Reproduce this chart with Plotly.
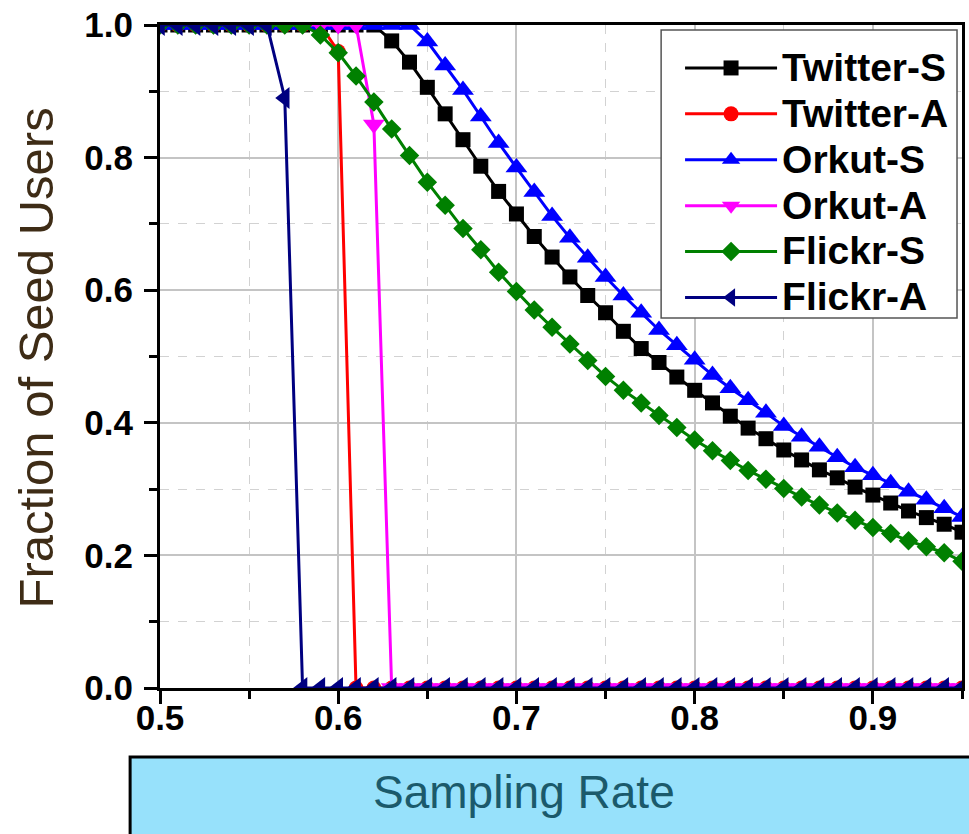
import plotly.graph_objects as go

sampling_rate = [0.50, 0.51, 0.52, 0.53, 0.54, 0.55, 0.56, 0.57, 0.58, 0.59,
                 0.60, 0.61, 0.62, 0.63, 0.64, 0.65, 0.66, 0.67, 0.68, 0.69,
                 0.70, 0.71, 0.72, 0.73, 0.74, 0.75, 0.76, 0.77, 0.78, 0.79,
                 0.80, 0.81, 0.82, 0.83, 0.84, 0.85, 0.86, 0.87, 0.88, 0.89,
                 0.90, 0.91, 0.92, 0.93, 0.94, 0.95]

twitter_s = [1.0, 1.0, 1.0, 1.0, 1.0, 1.0, 1.0, 1.0, 1.0, 1.0,
             1.0, 1.0, 1.0, 0.976, 0.944, 0.906, 0.866, 0.827, 0.787, 0.749,
             0.715, 0.681, 0.650, 0.620, 0.592, 0.566, 0.538, 0.512, 0.491, 0.469,
             0.449, 0.430, 0.410, 0.392, 0.376, 0.359, 0.344, 0.329, 0.317, 0.303,
             0.291, 0.279, 0.267, 0.257, 0.247, 0.235]

twitter_a = [1.0, 1.0, 1.0, 1.0, 1.0, 1.0, 1.0, 1.0, 1.0, 1.0,
             0.96, 0.0, 0.0, 0.0, 0.0, 0.0, 0.0, 0.0, 0.0, 0.0,
             0.0, 0.0, 0.0, 0.0, 0.0, 0.0, 0.0, 0.0, 0.0, 0.0,
             0.0, 0.0, 0.0, 0.0, 0.0, 0.0, 0.0, 0.0, 0.0, 0.0,
             0.0, 0.0, 0.0, 0.0, 0.0, 0.0]

orkut_s = [1.0, 1.0, 1.0, 1.0, 1.0, 1.0, 1.0, 1.0, 1.0, 1.0,
           1.0, 1.0, 1.0, 1.0, 1.0, 0.975, 0.939, 0.902, 0.862, 0.822,
           0.785, 0.748, 0.712, 0.679, 0.649, 0.620, 0.592, 0.566, 0.540, 0.517,
           0.495, 0.472, 0.452, 0.434, 0.415, 0.395, 0.379, 0.364, 0.348, 0.333,
           0.321, 0.309, 0.296, 0.284, 0.271, 0.258]

orkut_a = [1.0, 1.0, 1.0, 1.0, 1.0, 1.0, 1.0, 1.0, 1.0, 1.0,
           1.0, 1.0, 0.85, 0.0, 0.0, 0.0, 0.0, 0.0, 0.0, 0.0,
           0.0, 0.0, 0.0, 0.0, 0.0, 0.0, 0.0, 0.0, 0.0, 0.0,
           0.0, 0.0, 0.0, 0.0, 0.0, 0.0, 0.0, 0.0, 0.0, 0.0,
           0.0, 0.0, 0.0, 0.0, 0.0, 0.0]

flickr_s = [1.0, 1.0, 1.0, 1.0, 1.0, 1.0, 1.0, 1.0, 1.0, 0.985,
            0.958, 0.923, 0.884, 0.843, 0.803, 0.763, 0.728, 0.693, 0.661, 0.627,
            0.598, 0.570, 0.544, 0.519, 0.494, 0.470, 0.449, 0.430, 0.411, 0.393,
            0.374, 0.358, 0.343, 0.328, 0.315, 0.301, 0.288, 0.276, 0.264, 0.253,
            0.242, 0.233, 0.222, 0.213, 0.204, 0.191]

flickr_a = [1.0, 1.0, 1.0, 1.0, 1.0, 1.0, 1.0, 0.89, 0.0, 0.0,
            0.0, 0.0, 0.0, 0.0, 0.0, 0.0, 0.0, 0.0, 0.0, 0.0,
            0.0, 0.0, 0.0, 0.0, 0.0, 0.0, 0.0, 0.0, 0.0, 0.0,
            0.0, 0.0, 0.0, 0.0, 0.0, 0.0, 0.0, 0.0, 0.0, 0.0,
            0.0, 0.0, 0.0, 0.0, 0.0, 0.0]

series_names = ["Twitter-S", "Twitter-A", "Orkut-S", "Orkut-A", "Flickr-S", "Flickr-A"]
series_values = [twitter_s, twitter_a, orkut_s, orkut_a, flickr_s, flickr_a]
series_colors = ["#000000", "#FF0000", "#0000FF", "#FF00FF", "#008000", "#000080"]
series_symbols = ["square", "circle", "triangle-up", "triangle-down", "diamond", "triangle-left"]
series_sizes = [15, 15, 19, 19, 15, 19]

x_ticks = [0.5, 0.6, 0.7, 0.8, 0.9]
y_ticks = [0.0, 0.2, 0.4, 0.6, 0.8, 1.0]

FONT = "Liberation Sans, Arial, sans-serif"

fig = go.Figure()
for name, vals, col, sym, sz in zip(series_names, series_values, series_colors,
                                    series_symbols, series_sizes):
    fig.add_trace(go.Scatter(
        x=sampling_rate, y=vals,
        name="<span style='font-size:39px'>%s</span>" % name,
        mode="lines+markers",
        line=dict(color=col, width=3),
        marker=dict(symbol=sym, size=sz, color=col, line=dict(width=0)),
        cliponaxis=True,
    ))

axis_common = dict(
    showline=True, linecolor="black", linewidth=3, mirror=True,
    ticks="outside", tickcolor="black", tickwidth=2.5, ticklen=13,
    showgrid=True, gridcolor="#c4c4c4", gridwidth=1.5,
    zeroline=False,
    tickfont=dict(family=FONT, size=35, color="black", weight="bold"),
    tickformat=".1f",
)

# paper-coordinate helpers (plot area: x 160..965 px, y 25..688 px)
def px_x(p):
    return (p - 160) / 805.0

def px_y(p):
    return (688 - p) / 663.0

fig.update_layout(
    width=969, height=834,
    margin=dict(l=160, r=4, t=25, b=146),
    paper_bgcolor="white", plot_bgcolor="white",
    xaxis=dict(range=[0.5, 0.95], tickvals=x_ticks,
               minor=dict(dtick=0.05, tick0=0.5, ticks="outside", ticklen=8,
                          tickwidth=2.5, tickcolor="black", showgrid=True,
                          gridcolor="#d2d2d2", griddash="dash", gridwidth=1.2),
               ticklabelstandoff=-16,
               **axis_common),
    yaxis=dict(range=[0, 1], tickvals=y_ticks,
               minor=dict(dtick=0.1, tick0=0, ticks="outside", ticklen=8,
                          tickwidth=2.5, tickcolor="black", showgrid=True,
                          gridcolor="#d2d2d2", griddash="dash", gridwidth=1.2),
               ticklabelstandoff=4,
               **axis_common),
    showlegend=True,
    legend=dict(x=px_x(682), y=px_y(40), xanchor="left", yanchor="top",
                bgcolor="rgba(0,0,0,0)", borderwidth=0,
                font=dict(family=FONT, size=33, color="black", weight="bold"),
                itemwidth=92, tracegroupgap=0),
    shapes=[
        dict(type="rect", xref="paper", yref="paper",
             x0=px_x(663), x1=px_x(960), y0=px_y(318), y1=px_y(30),
             line=dict(color="#555555", width=1.5), fillcolor="white",
             layer="above"),
        dict(type="rect", xref="paper", yref="paper",
             x0=px_x(130), x1=1.02, y0=-0.24, y1=px_y(757),
             line=dict(color="black", width=3), fillcolor="#97E1FB",
             layer="above"),
    ],
    annotations=[
        dict(text="Sampling Rate", xref="paper", yref="paper",
             x=px_x(525), y=px_y(792), xanchor="center", yanchor="middle",
             showarrow=False,
             font=dict(family=FONT, size=46, color="#1b5a6b")),
        dict(text="Fraction of Seed Users", xref="paper", yref="paper",
             x=px_x(36), y=px_y(358), xanchor="center", yanchor="middle",
             textangle=-90, showarrow=False,
             font=dict(family=FONT, size=49, color="#3e2c16")),
    ],
)

fig.write_html("out.html")
